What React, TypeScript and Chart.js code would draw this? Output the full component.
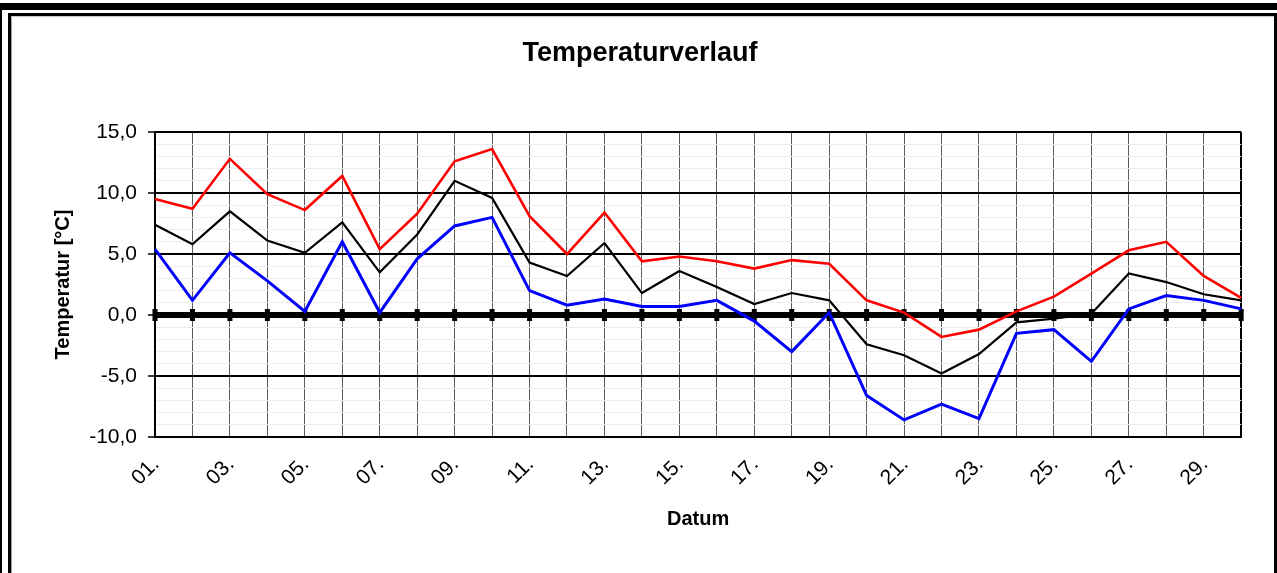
import React, { useEffect, useRef } from 'react';
import { Chart, registerables } from 'chart.js';

Chart.register(...registerables);

const days = ['01.', '02.', '03.', '04.', '05.', '06.', '07.', '08.', '09.', '10.', '11.', '12.', '13.', '14.', '15.', '16.', '17.', '18.', '19.', '20.', '21.', '22.', '23.', '24.', '25.', '26.', '27.', '28.', '29.', '30.'];
const maxTemp = [9.5, 8.7, 12.8, 9.9, 8.6, 11.4, 5.4, 8.3, 12.6, 13.6, 8.1, 5.0, 8.4, 4.4, 4.8, 4.4, 3.8, 4.5, 4.2, 1.2, 0.2, -1.8, -1.2, 0.3, 1.5, 3.4, 5.3, 6.0, 3.2, 1.4];
const avgTemp = [7.4, 5.8, 8.5, 6.1, 5.1, 7.6, 3.5, 6.6, 11.0, 9.6, 4.3, 3.2, 5.9, 1.8, 3.6, 2.3, 0.9, 1.8, 1.2, -2.4, -3.3, -4.8, -3.2, -0.6, -0.3, 0.1, 3.4, 2.7, 1.7, 1.2];
const minTemp = [5.4, 1.2, 5.1, 2.8, 0.3, 6.0, 0.2, 4.6, 7.3, 8.0, 2.0, 0.8, 1.3, 0.7, 0.7, 1.2, -0.5, -3.0, 0.2, -6.6, -8.6, -7.3, -8.5, -1.5, -1.2, -3.8, 0.5, 1.6, 1.2, 0.5];

const yMin = -10;
const yMax = 15;
const FONT = '"Liberation Sans", Arial, Helvetica, sans-serif';

const axisCrossPlugin = {
  id: 'axisCross',
  beforeDatasetsDraw(chart: any) {
    const { ctx, scales } = chart;
    const x = scales.x;
    const y = scales.y;
    const y0 = y.getPixelForValue(0);
    ctx.save();
    ctx.fillStyle = '#000';
    for (let i = 0; i < days.length; i++) {
      const px = x.getPixelForValue(i);
      ctx.fillRect(px - 2.5, y0 - 6, 5, 12);
    }
    ctx.restore();
  },
};

export default function App() {
  const ref = useRef<HTMLCanvasElement | null>(null);

  useEffect(() => {
    if (!ref.current) return;
    const tickVal = (c: any) => (c && c.tick ? Math.round(c.tick.value) : 1);
    const chart = new Chart(ref.current, {
      type: 'line',
      data: {
        labels: days,
        datasets: [
          { label: 'Max', data: maxTemp, borderColor: '#ff0000', borderWidth: 2.6, pointRadius: 0, tension: 0, fill: false },
          { label: 'Mittel', data: avgTemp, borderColor: '#000000', borderWidth: 2.2, pointRadius: 0, tension: 0, fill: false },
          { label: 'Min', data: minTemp, borderColor: '#0000ff', borderWidth: 3, pointRadius: 0, tension: 0, fill: false },
        ],
      },
      options: {
        responsive: false,
        animation: false,
        events: [],
        layout: { padding: 0 },
        plugins: {
          legend: { display: false },
          tooltip: { enabled: false },
          title: {
            display: true,
            text: 'Temperaturverlauf',
            color: '#000',
            font: { family: FONT, size: 27, weight: 'bold' },
            padding: { top: 21.8, bottom: 61.8 },
          },
        },
        scales: {
          x: {
            type: 'category',
            offset: false,
            grid: {
              color: (c: any) => (c.index === days.length - 1 ? '#000' : '#5a5a5a'),
              lineWidth: (c: any) => (c.index === days.length - 1 ? 2 : 1),
              drawTicks: false,
            },
            border: { display: true, color: '#000', width: 2 },
            ticks: {
              autoSkip: false,
              maxRotation: 45,
              minRotation: 45,
              padding: 15,
              labelOffset: 1,
              color: '#000',
              font: { family: FONT, size: 21 },
              callback: (_v: any, i: number) => (i % 2 === 0 ? days[i] : ''),
            },
            title: {
              display: true,
              text: 'Datum',
              color: '#000',
              font: { family: FONT, size: 20, weight: 'bold' },
              padding: { top: 0, bottom: 42 },
            },
            afterFit: (s: any) => { s.height = 136; },
          },
          y: {
            min: yMin,
            max: yMax,
            ticks: {
              stepSize: 1,
              autoSkip: false,
              padding: 11,
              color: '#000',
              font: { family: FONT, size: 21 },
              callback: (v: any) => (Math.round(v) % 5 === 0 ? Number(v).toFixed(1).replace('.', ',') : ''),
            },
            grid: {
              color: (c: any) => (tickVal(c) % 5 === 0 ? '#000' : '#ededed'),
              lineWidth: (c: any) => { const v = tickVal(c); return v === 0 ? 6 : v % 5 === 0 ? 2 : 1; },
              tickLength: 7,
              tickColor: (c: any) => (tickVal(c) % 5 === 0 ? '#000' : 'rgba(0,0,0,0)'),
              tickWidth: 1.5,
            },
            border: { display: true, color: '#000', width: 2 },
            title: {
              display: true,
              text: 'Temperatur [°C]',
              color: '#000',
              font: { family: FONT, size: 20, weight: 'bold' },
              padding: { top: 45, bottom: 0 },
            },
            afterFit: (s: any) => { s.width = 149; },
          },
          yR: {
            type: 'linear',
            position: 'right',
            display: true,
            grid: { display: false, drawTicks: false },
            ticks: { display: false },
            border: { display: false },
            afterFit: (s: any) => { s.width = 32; },
          },
        },
      } as any,
      plugins: [axisCrossPlugin],
    });
    return () => chart.destroy();
  }, []);

  return (
    <div style={{ position: 'fixed', left: 0, top: 0, width: 1277, height: 573, background: '#fff', overflow: 'hidden' }}>
      <canvas ref={ref} width={1268} height={557} style={{ position: 'absolute', left: 6, top: 16, width: 1268, height: 557 }} />
      <div style={{ position: 'absolute', left: 0, top: 3, width: 1277, height: 7, background: '#000' }} />
      <div style={{ position: 'absolute', left: 0, top: 3, width: 2, height: 570, background: '#000' }} />
      <div style={{ position: 'absolute', left: 8, top: 13, width: 1269, height: 560, boxSizing: 'border-box', borderLeft: '3px solid #000', borderTop: '3px solid #000', borderRight: '3px solid #000' }} />
      <div style={{ position: 'absolute', left: 11, top: 16, width: 1, height: 557, background: '#a0a0a0' }} />
      <div style={{ position: 'absolute', left: 11, top: 16, width: 1263, height: 1, background: '#c8c8c8' }} />
    </div>
  );
}
